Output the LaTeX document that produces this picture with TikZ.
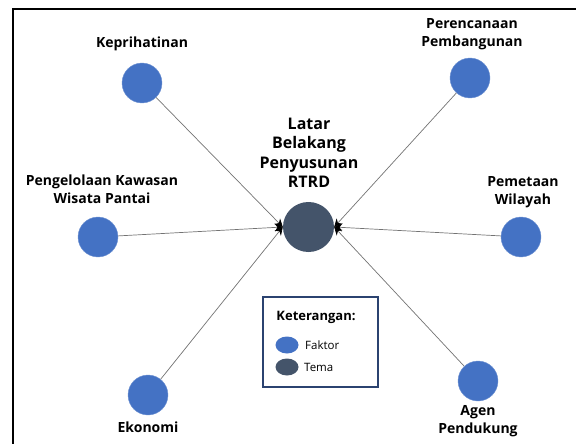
\documentclass[tikz,border=0pt]{standalone}
\usepackage{fontspec}
\setmainfont{Open Sans}
\usetikzlibrary{arrows.meta,shapes.geometric}
\definecolor{faktorblue}{HTML}{4472C4}
\definecolor{temagray}{HTML}{44546A}
\definecolor{legendnavy}{HTML}{2B4370}

\begin{document}
\begin{tikzpicture}[x=1pt,y=-1pt,
		faktor/.style={circle,fill=faktorblue,draw=faktorblue!75!white,line width=0.4pt,minimum size=40pt,inner sep=0pt},
		tema/.style={ellipse,fill=temagray,minimum width=51pt,minimum height=50pt,inner sep=0pt},
		caption/.style={align=center,font=\bfseries\fontsize{14}{18}\selectfont},
		link/.style={draw=black!55,line width=0.7pt,-{Stealth[color=black,length=8pt,width=8pt]}}]
		\useasboundingbox (0,0) rectangle (576,444);
		
		% Frame
		\draw[line width=2pt] (13,444) -- (13,9) -- (576,9);
		
		% Center
		\node[tema] (rtrd) at (308.5,227) {};
		\node[align=center,font=\bfseries\fontsize{16}{19.5}\selectfont] (judul) at (309,153) {Latar\\Belakang\\Penyusunan\\RTRD};
		
		% Factors
		\node[faktor] (kep) at (142,83) {};
		\node[faktor] (ren) at (470,78) {};
		\node[faktor] (kaw) at (98,237) {};
		\node[faktor] (pem) at (521,237) {};
		\node[faktor] (eko) at (148,395) {};
		\node[faktor] (agen) at (478,381) {};
		
		% Labels
		\node[caption] (kepText) at (142,44) {Keprihatinan};
		\node[caption] (renText) at (472,34) {Perencanaan\\Pembangunan};
		\node[caption] (kawText) at (102,189) {Pengelolaan Kawasan\\Wisata Pantai};
		\node[caption] (pemText) at (523,192) {Pemetaan\\Wilayah};
		\node[caption] (ekoText) at (148,427) {Ekonomi};
		\node[caption] (agenText) at (478,421) {Agen\\Pendukung};
		
		% Links
		\draw[link] (kep) -- (rtrd.west);
		\draw[link] (kaw) -- (rtrd.west);
		\draw[link] (eko) -- (rtrd.west);
		\draw[link] (ren) -- (rtrd.east);
		\draw[link] (pem) -- (rtrd.east);
		\draw[link] (agen) -- (rtrd.east);
		
		% Legend
		\draw[draw=legendnavy,line width=2.5pt] (263,297) rectangle (378,387);
		\node[font=\bfseries\fontsize{13}{15}\selectfont] (ket) at (316,317) {Keterangan:};
		\node[ellipse,fill=faktorblue,minimum width=23pt,minimum height=17pt,inner sep=0pt] (ketFaktor) at (287,345) {};
		\node[ellipse,fill=temagray,minimum width=23pt,minimum height=17pt,inner sep=0pt] (ketTema) at (287,367) {};
		\node[anchor=west,inner sep=0pt,font=\fontsize{11.5}{13}\selectfont] (faktorText) at (305,345) {Faktor};
		\node[anchor=west,inner sep=0pt,font=\fontsize{11.5}{13}\selectfont] (temaText) at (304,367) {Tema};
		\end{tikzpicture}
\end{document}
